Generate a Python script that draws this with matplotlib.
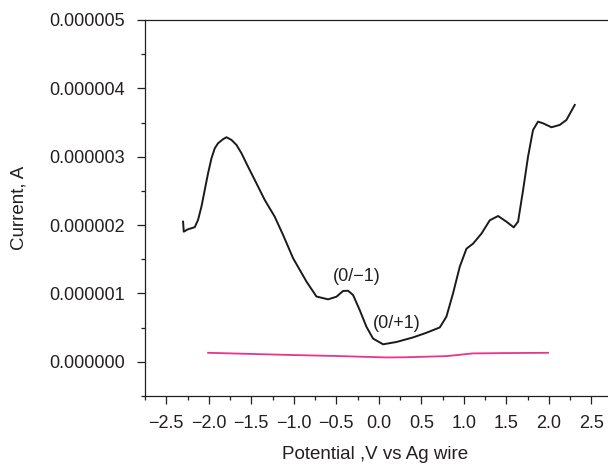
import matplotlib
matplotlib.use("Agg")
import matplotlib.pyplot as plt
from matplotlib.ticker import MultipleLocator, FuncFormatter
import numpy as np

plt.rcParams['font.family'] = ['Liberation Sans', 'DejaVu Sans']

# Sample scan: potential (V vs Ag wire) and current (µA)
sample_potential = [-2.302, -2.294, -2.244, -2.165, -2.126, -2.086, -2.047, -2.008,
                    -1.968, -1.929, -1.891, -1.832, -1.792, -1.733, -1.674, -1.615,
                    -1.538, -1.439, -1.341, -1.224, -1.126, -1.008, -0.851, -0.733,
                    -0.596, -0.498, -0.420, -0.361, -0.302, -0.224, -0.145, -0.067,
                    0.051, 0.208, 0.404, 0.561, 0.718, 0.796, 0.874, 0.953,
                    1.032, 1.109, 1.208, 1.306, 1.404, 1.502, 1.588, 1.639,
                    1.698, 1.756, 1.815, 1.874, 1.933, 2.032, 2.129, 2.208, 2.306]
sample_current = [2.050, 1.904, 1.939, 1.969, 2.076, 2.270, 2.514, 2.758,
                  2.977, 3.124, 3.197, 3.256, 3.285, 3.246, 3.173, 3.051,
                  2.855, 2.611, 2.367, 2.123, 1.857, 1.516, 1.175, 0.955,
                  0.914, 0.952, 1.036, 1.040, 0.977, 0.757, 0.513, 0.340,
                  0.256, 0.290, 0.357, 0.425, 0.503, 0.660, 1.001, 1.391,
                  1.655, 1.728, 1.875, 2.070, 2.133, 2.050, 1.967, 2.050,
                  2.511, 2.999, 3.391, 3.513, 3.489, 3.431, 3.465, 3.538, 3.758]

# Blank (electrolyte only) scan
blank_potential = [-2.008, -1.5, -0.968, -0.5, 0.091, 0.3, 0.796, 1.106, 1.5, 1.992]
blank_current = [0.132, 0.115, 0.098, 0.085, 0.064, 0.066, 0.083, 0.123, 0.128, 0.132]

# Peak labels
peak_labels = ["(0/\u22121)", "(0/+1)"]
peak_x = [-0.262, 0.208]
peak_y = [1.245, 0.562]

ink = '#231f20'
fig = plt.figure(figsize=(6.08, 4.66), dpi=100)
ax = fig.add_axes([145 / 608, 70 / 466, 467.5 / 608, 376 / 466])

ua = 1e-6
ax.plot(sample_potential, np.array(sample_current) * ua, color='#1a1a1a', lw=1.4,
        solid_joinstyle='round')
ax.plot(blank_potential, np.array(blank_current) * ua, color='#e5358c', lw=1.3)

for txt, x, y in zip(peak_labels, peak_x, peak_y):
    ax.text(x, y * ua, txt, ha='center', va='center', fontsize=13, color=ink)

ax.set_xlim(-2.75, 2.75)
ax.set_ylim(-0.5e-6, 5e-6)
ax.xaxis.set_major_locator(MultipleLocator(0.5))
ax.xaxis.set_minor_locator(MultipleLocator(0.25))
ax.yaxis.set_major_locator(MultipleLocator(1e-6))
ax.yaxis.set_minor_locator(MultipleLocator(0.5e-6))
ax.yaxis.set_major_formatter(FuncFormatter(lambda v, p: f"{abs(v):.6f}" if abs(v) < 1e-12 else f"{v:.6f}"))
ax.xaxis.set_major_formatter(FuncFormatter(lambda v, p: f"{v:.1f}".replace('-', '\u2212')))

ax.tick_params(which='major', direction='out', length=5.5, width=0.9, color=ink,
               labelsize=13, labelcolor=ink)
ax.tick_params(which='minor', direction='out', length=3, width=0.9, color=ink)
ax.tick_params(axis='y', which='major', pad=9)
ax.tick_params(axis='x', which='major', pad=8)

for s in ax.spines.values():
    s.set_color(ink)
    s.set_linewidth(0.9)

ax.set_xlabel("Potential ,V vs Ag wire", fontsize=13.5, color=ink)
ax.set_ylabel("Current, A", fontsize=13.5, color=ink)
ax.xaxis.set_label_coords(0.5 - (467.5 / 2 - (375 - 145)) / 467.5, -0.133)
ax.yaxis.set_label_coords(-0.252, 0.5)
ax.xaxis.label.set_va('top')

fig.savefig("out.png", dpi=100)
